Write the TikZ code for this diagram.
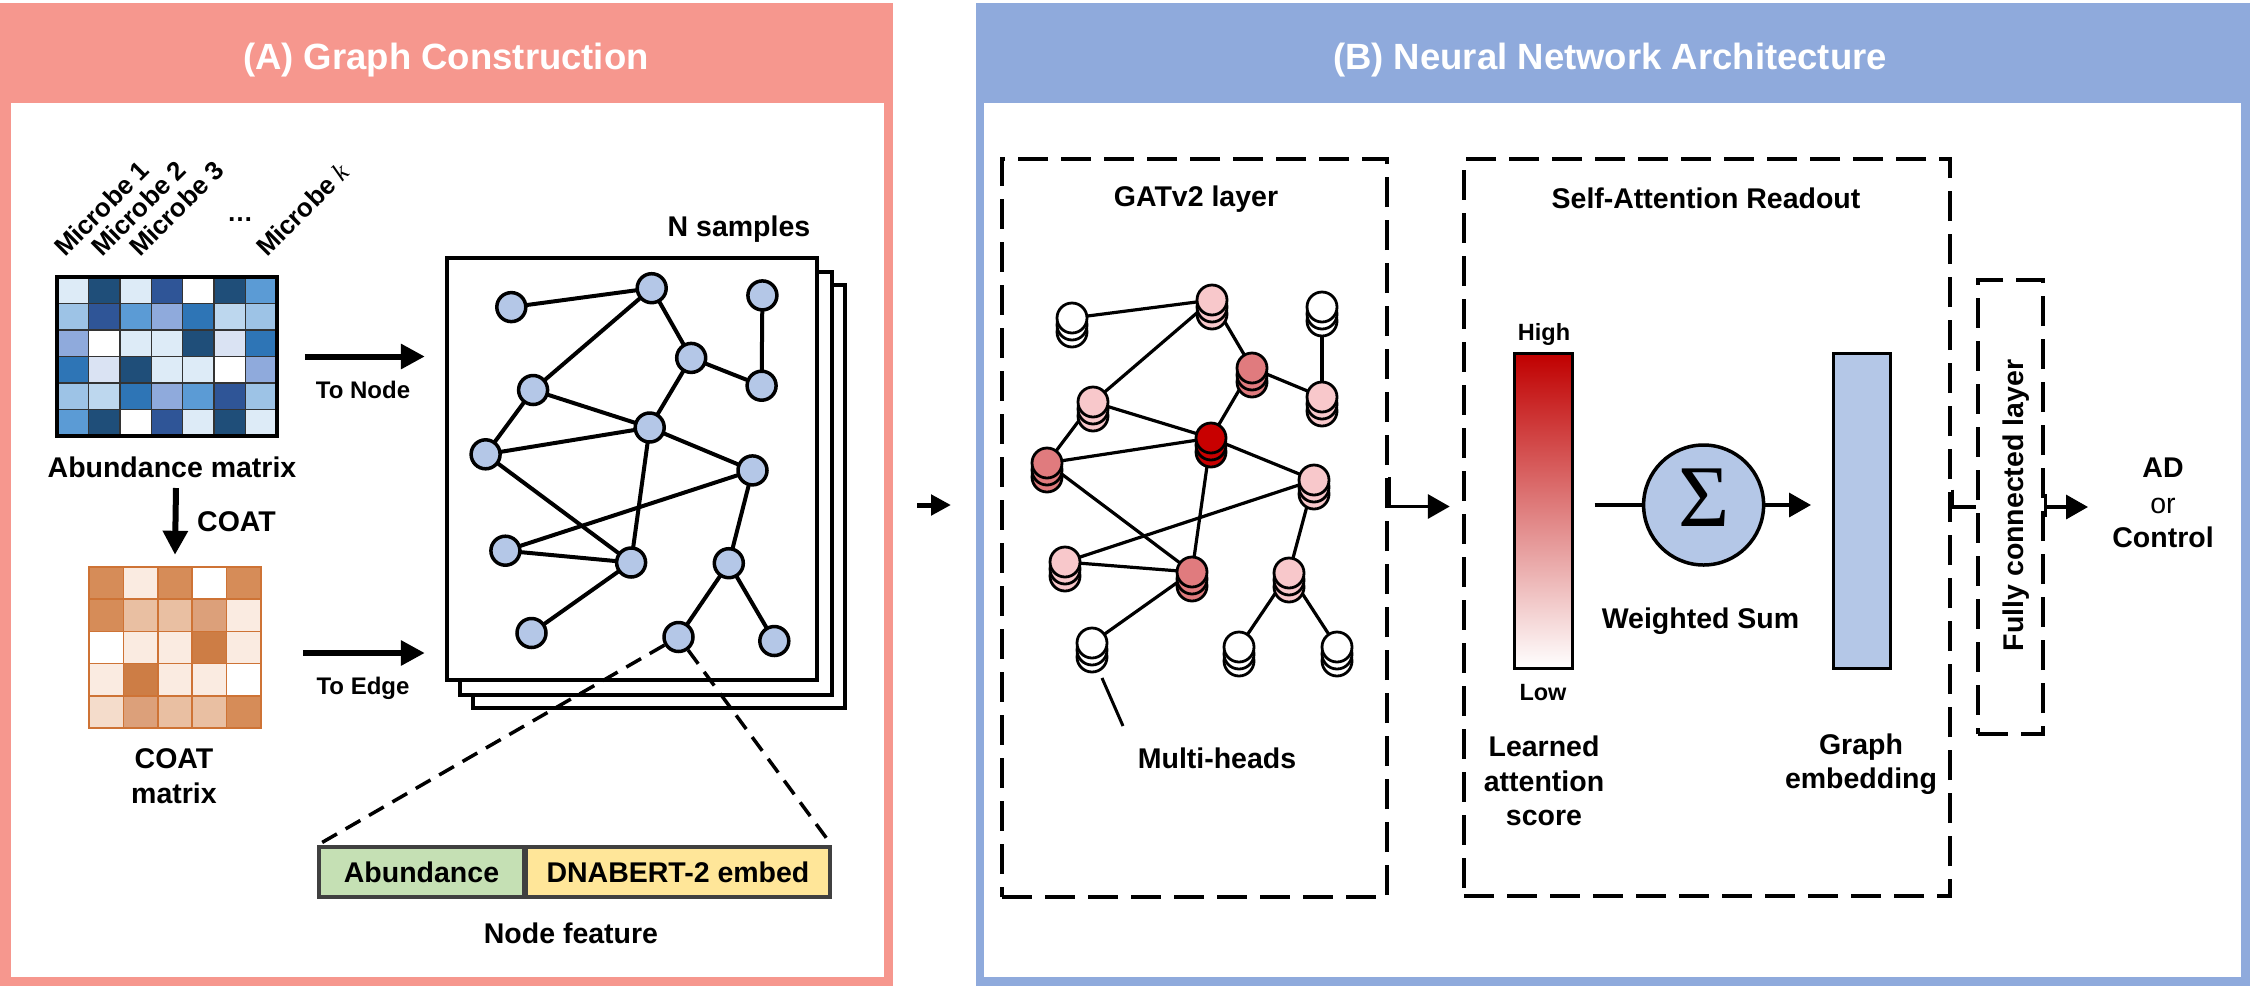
\documentclass[tikz,border=0pt]{standalone}
\usepackage{fontspec}
\setmainfont{Liberation Sans}
\newfontfamily\sigmafont{Liberation Serif}
\usetikzlibrary{arrows.meta,calc}
\pgfdeclarelayer{bglayer}
\pgfdeclarelayer{edgelayer}
\pgfsetlayers{bglayer,edgelayer,main}

\definecolor{pinkA}{HTML}{F6978E}
\definecolor{blueB}{HTML}{8FAADC}
\definecolor{nodeblue}{HTML}{B4C7E7}
\definecolor{lp}{HTML}{F8C8CB}
\definecolor{md}{HTML}{E07B7E}
\definecolor{dr}{HTML}{C80000}
\definecolor{gradred}{HTML}{C00000}
\definecolor{featgreen}{HTML}{C5E0B4}
\definecolor{featyellow}{HTML}{FFE699}
\definecolor{coatline}{HTML}{C55A11}
\definecolor{b0}{HTML}{FFFFFF}
\definecolor{b1}{HTML}{DDEBF7}
\definecolor{b2}{HTML}{DAE3F3}
\definecolor{b3}{HTML}{BDD7EE}
\definecolor{b4}{HTML}{9DC3E6}
\definecolor{b5}{HTML}{8FAADC}
\definecolor{b6}{HTML}{5B9BD5}
\definecolor{b7}{HTML}{2E75B6}
\definecolor{b8}{HTML}{2F5597}
\definecolor{b9}{HTML}{1F4E79}
\definecolor{o0}{HTML}{FFFFFF}
\definecolor{o1}{HTML}{D68C58}
\definecolor{o6}{HTML}{CD7D45}
\definecolor{o2}{HTML}{DCA07A}
\definecolor{o3}{HTML}{E9BFA2}
\definecolor{o4}{HTML}{F4DCCB}
\definecolor{o5}{HTML}{FAEBE1}

\newcommand\gatcyl[4]{%
  \node[gdisk, fill=#4] (#1c) at ({#2},{#3+14}) {};
  \node[gdisk, fill=#4] (#1b) at ({#2},{#3+7}) {};
  \node[gdisk, fill=#4] (#1) at ({#2},{#3}) {};
}

\tikzset{
  lbl/.style={font=\fontsize{28.5}{34}\selectfont\bfseries, inner sep=0pt, anchor=base},
  smalllbl/.style={font=\fontsize{24}{28}\selectfont\bfseries, inner sep=0pt, anchor=base},
  hdr/.style={font=\fontsize{36.5}{42}\selectfont\bfseries, text=white, inner sep=0pt, anchor=base west},
  micro/.style={font=\fontsize{26}{30}\selectfont\bfseries, inner sep=0pt, anchor=base west, rotate=45},
  gnode/.style={circle, draw, line width=3.5pt, fill=nodeblue, minimum size=29pt, inner sep=0pt},
  gdisk/.style={circle, draw, line width=2.8pt, minimum size=30pt, inner sep=0pt},
  gedge/.style={line width=4pt},
  aedge/.style={line width=3.2pt},
  pagebox/.style={draw, line width=4.3pt, fill=white, inner sep=0pt},
  dbox/.style={draw, dash pattern=on 30pt off 13pt, line width=4.5pt, inner sep=0pt},
  fdash/.style={dash pattern=on 17pt off 10pt, line width=3.5pt},
  bigarr/.style={line width=6pt, -{Triangle[length=24pt,width=24pt]}},
  conn/.style={line width=3.5pt, -{Triangle[length=22pt,width=24pt]}},
  plainconn/.style={line width=3.5pt},
}

\begin{document}
\begin{tikzpicture}[x=1pt,y=-1pt]
\useasboundingbox (0,0) rectangle (2250,986);

\begin{pgfonlayer}{bglayer}
  \fill[white] (0,0) rectangle (2250,986);
  \fill[pinkA] (0,3) rectangle (893,986);
  \fill[white] (11,103) rectangle (884,977);
  \fill[blueB] (976,3) rectangle (2250,986);
  \fill[white] (984,103) rectangle (2241,977);
  \node[pagebox, minimum width=372pt, minimum height=423pt] (page3) at (659,496.5) {};
  \node[pagebox, minimum width=372pt, minimum height=423pt] (page2) at (646,483.5) {};
  \node[pagebox, minimum width=370pt, minimum height=422pt] (page1) at (632,469) {};
\end{pgfonlayer}

% headers
\node[hdr] (hA) at (243,69) {(A) Graph Construction};
\node[hdr] (hB) at (1333,69) {(B) Neural Network Architecture};

% abundance matrix
\foreach \row [count=\r from 0] in {{b1,b9,b1,b8,b0,b9,b6},{b4,b8,b6,b5,b7,b3,b4},{b5,b0,b1,b1,b9,b2,b7},{b7,b2,b9,b1,b1,b0,b5},{b4,b3,b7,b5,b6,b8,b4},{b6,b9,b0,b8,b1,b9,b1}}{
  \foreach \c [count=\k from 0] in \row {
    \filldraw[fill=\c, draw=black!80, line width=1.5pt] ({57+\k*31.43},{277+\r*26.5}) rectangle ++(31.43,26.5);
  }
}
\node[draw, line width=3.5pt, minimum width=220pt, minimum height=159pt, inner sep=0pt] (abmat) at (167,356.5) {};

% COAT matrix
\foreach \row [count=\r from 0] in {{o1,o5,o1,o0,o1},{o1,o3,o3,o2,o5},{o0,o5,o5,o6,o5},{o5,o6,o5,o5,o0},{o4,o2,o3,o3,o1}}{
  \foreach \c [count=\k from 0] in \row {
    \filldraw[fill=\c, draw=coatline!85, line width=1.5pt] ({89+\k*34.4},{567+\r*32.2}) rectangle ++(34.4,32.2);
  }
}
\node[minimum width=172pt, minimum height=161pt, inner sep=0pt] (coatmat) at (175,647.5) {};

% microbe labels
\node[micro] (m1) at (65,258) {Microbe 1};
\node[micro] (m2) at (102,258) {Microbe 2};
\node[micro] (m3) at (140,258) {Microbe 3};
\node[micro] (mk) at (267,258) {Microbe {\sigmafont\itshape\mdseries k}};
\node[font=\fontsize{26}{30}\selectfont\bfseries, inner sep=0pt, anchor=base] (dots) at (240,221) {…};

\node[lbl] (abl) at (172,477) {Abundance matrix};
\node[lbl, anchor=base west] (coatl) at (197,531) {COAT};
\node[lbl] (cm1) at (174,768) {COAT};
\node[lbl] (cm2) at (174,803) {matrix};

% arrows in panel A
\draw[bigarr, shorten <=26pt, shorten >=20pt] (abmat.east) -- (abmat.east -| page1.west);
\node[smalllbl] (tnl) at (363,398) {To Node};
\draw[bigarr, shorten <=42pt, shorten >=20pt] ([yshift=-5.5pt]coatmat.east) -- ([yshift=-5.5pt]coatmat.east -| page1.west);
\node[smalllbl] (tel) at (363,694) {To Edge};
\coordinate (coA) at (176,488);
\draw[bigarr] (coA) -- ([yshift=12pt]coatmat.north);

\node[lbl] (ns) at (739,236) {N samples};

% left graph
\node[gnode] (n1) at (511.3,307.1) {};
\node[gnode] (n2) at (651.7,288.2) {};
\node[gnode] (n3) at (762.4,295.4) {};
\node[gnode] (n4) at (691.2,357.9) {};
\node[gnode] (n5) at (761.6,385.7) {};
\node[gnode] (n6) at (533.1,390) {};
\node[gnode] (n7) at (649.7,427.5) {};
\node[gnode] (n8) at (485.6,454.3) {};
\node[gnode] (n9) at (752.5,470.4) {};
\node[gnode] (n10) at (505.4,550.7) {};
\node[gnode] (n11) at (631.1,562.5) {};
\node[gnode] (n12) at (728.8,563.2) {};
\node[gnode] (n13) at (531.5,633) {};
\node[gnode] (n14) at (678.5,637) {};
\node[gnode] (n15) at (774.3,641) {};
\begin{pgfonlayer}{edgelayer}
  \foreach \a/\b in {1/2,2/6,2/4,3/5,4/5,4/7,6/7,6/8,8/7,7/9,7/11,8/11,9/10,10/11,9/12,11/13,12/14,12/15}
    \draw[gedge] (n\a.center) -- (n\b.center);
\end{pgfonlayer}

% node feature
\node[draw=black!75, line width=3.5pt, fill=featgreen, minimum width=205pt, minimum height=50pt, inner sep=0pt, font=\fontsize{28.5}{34}\selectfont\bfseries] (featA) at (421.5,872) {Abundance};
\node[draw=black!75, line width=3.5pt, fill=featyellow, minimum width=304pt, minimum height=50pt, inner sep=0pt, font=\fontsize{28.5}{34}\selectfont\bfseries] (featD) at (678,872) {DNABERT-2 embed};
\draw[fdash] (n14) -- (featA.north west);
\draw[fdash] (n14) -- (featD.north east);
\node[lbl] (nf) at (571,943) {Node feature};

% middle arrow
\coordinate (midA) at (917,505);
\coordinate (midB) at (951,505);
\draw[line width=5pt, -{Triangle[length=20pt,width=20pt]}] (midA) -- (midB);

% panel B: GATv2 layer
\node[dbox, minimum width=385pt, minimum height=738pt] (gatbox) at (1194.5,528) {};
\node[lbl] (gatl) at (1196,206) {GATv2 layer};
\gatcyl{g1}{1072}{318}{white}
\gatcyl{g2}{1212}{300}{lp}
\gatcyl{g3}{1322}{307}{white}
\gatcyl{g4}{1252}{368}{md}
\gatcyl{g5}{1322}{397}{lp}
\gatcyl{g6}{1093}{402}{lp}
\gatcyl{g7}{1211}{438}{dr}
\gatcyl{g8}{1047}{463}{md}
\gatcyl{g9}{1314}{480}{lp}
\gatcyl{g10}{1065}{562}{lp}
\gatcyl{g11}{1192}{572}{md}
\gatcyl{g12}{1289}{573}{lp}
\gatcyl{g13}{1092}{643}{white}
\gatcyl{g14}{1239}{647}{white}
\gatcyl{g15}{1337}{647}{white}
\begin{pgfonlayer}{edgelayer}
  \foreach \a/\b in {1/2,2/6,2/4,3/5,4/5,4/7,6/7,6/8,8/7,7/9,7/11,8/11,9/10,10/11,9/12,11/13,12/14,12/15}
    \draw[aedge] (g\a.center) -- (g\b.center);
\end{pgfonlayer}
\coordinate (mh1) at (1102,678);
\coordinate (mh2) at (1123,726);
\draw[line width=3pt] (mh1) -- (mh2);
\node[lbl] (mhl) at (1217,768) {Multi-heads};

% Self-attention readout
\node[dbox, minimum width=486pt, minimum height=737pt] (sabox) at (1707,527.5) {};
\node[lbl] (sal) at (1706,208) {Self-Attention Readout};
\draw[conn] ([yshift=51pt]gatbox.east) |- ($(sabox.west)+(-12,-21)$);

\node[draw, line width=3pt, minimum width=58pt, minimum height=315pt, top color=gradred, bottom color=white, inner sep=0pt] (bar) at (1543.5,511) {};
\node[font=\fontsize{23.5}{28}\selectfont\bfseries, inner sep=0pt, anchor=base] (high) at (1544,340) {High};
\node[font=\fontsize{23.5}{28}\selectfont\bfseries, inner sep=0pt, anchor=base] (low) at (1543,700) {Low};
\node[lbl] (la1) at (1544,756.5) {Learned};
\node[lbl] (la2) at (1544,791) {attention};
\node[lbl] (la3) at (1544,825.5) {score};

\node[circle, draw, line width=3.5pt, fill=nodeblue, minimum size=120pt, inner sep=0pt] (sig) at (1703.6,505) {};
\node[inner sep=0pt, font=\fontsize{88}{88}\sigmafont] (sigt) at (1703.6,497.5) {Σ};
\node[lbl] (wsl) at (1700.5,628) {Weighted Sum};

\node[draw, line width=3pt, fill=nodeblue, minimum width=57pt, minimum height=315pt, inner sep=0pt] (emb) at (1862,511) {};
\node[lbl] (ge1) at (1861,754) {Graph};
\node[lbl] (ge2) at (1861,788) {embedding};

\draw[line width=4pt] ($(bar.east |- sig.west)+(20.5,0)$) -- (sig.west);
\draw[conn] (sig.east) -- ($(emb.west |- sig.east)+(-21,0)$);

% fully connected layer
\node[dbox, minimum width=65pt, minimum height=454pt] (fcbox) at (2010.5,507) {};
\node[lbl, rotate=90] (fcl) at (2023,505.5) {Fully connected layer};
\draw[plainconn] ([yshift=38pt]sabox.east) |- (fcbox.west);
\draw[plainconn] ([yshift=13pt]fcbox.east) -- ([yshift=-10pt]fcbox.east);
\coordinate (outtip) at (2088,507);
\draw[conn] (fcbox.east) -- (outtip);

\node[lbl] (ad) at (2163,477.5) {AD};
\node[lbl, font=\fontsize{28.5}{34}\selectfont] (orl) at (2163,513) {or};
\node[lbl] (ctl) at (2163,547) {Control};
\end{tikzpicture}
\end{document}
